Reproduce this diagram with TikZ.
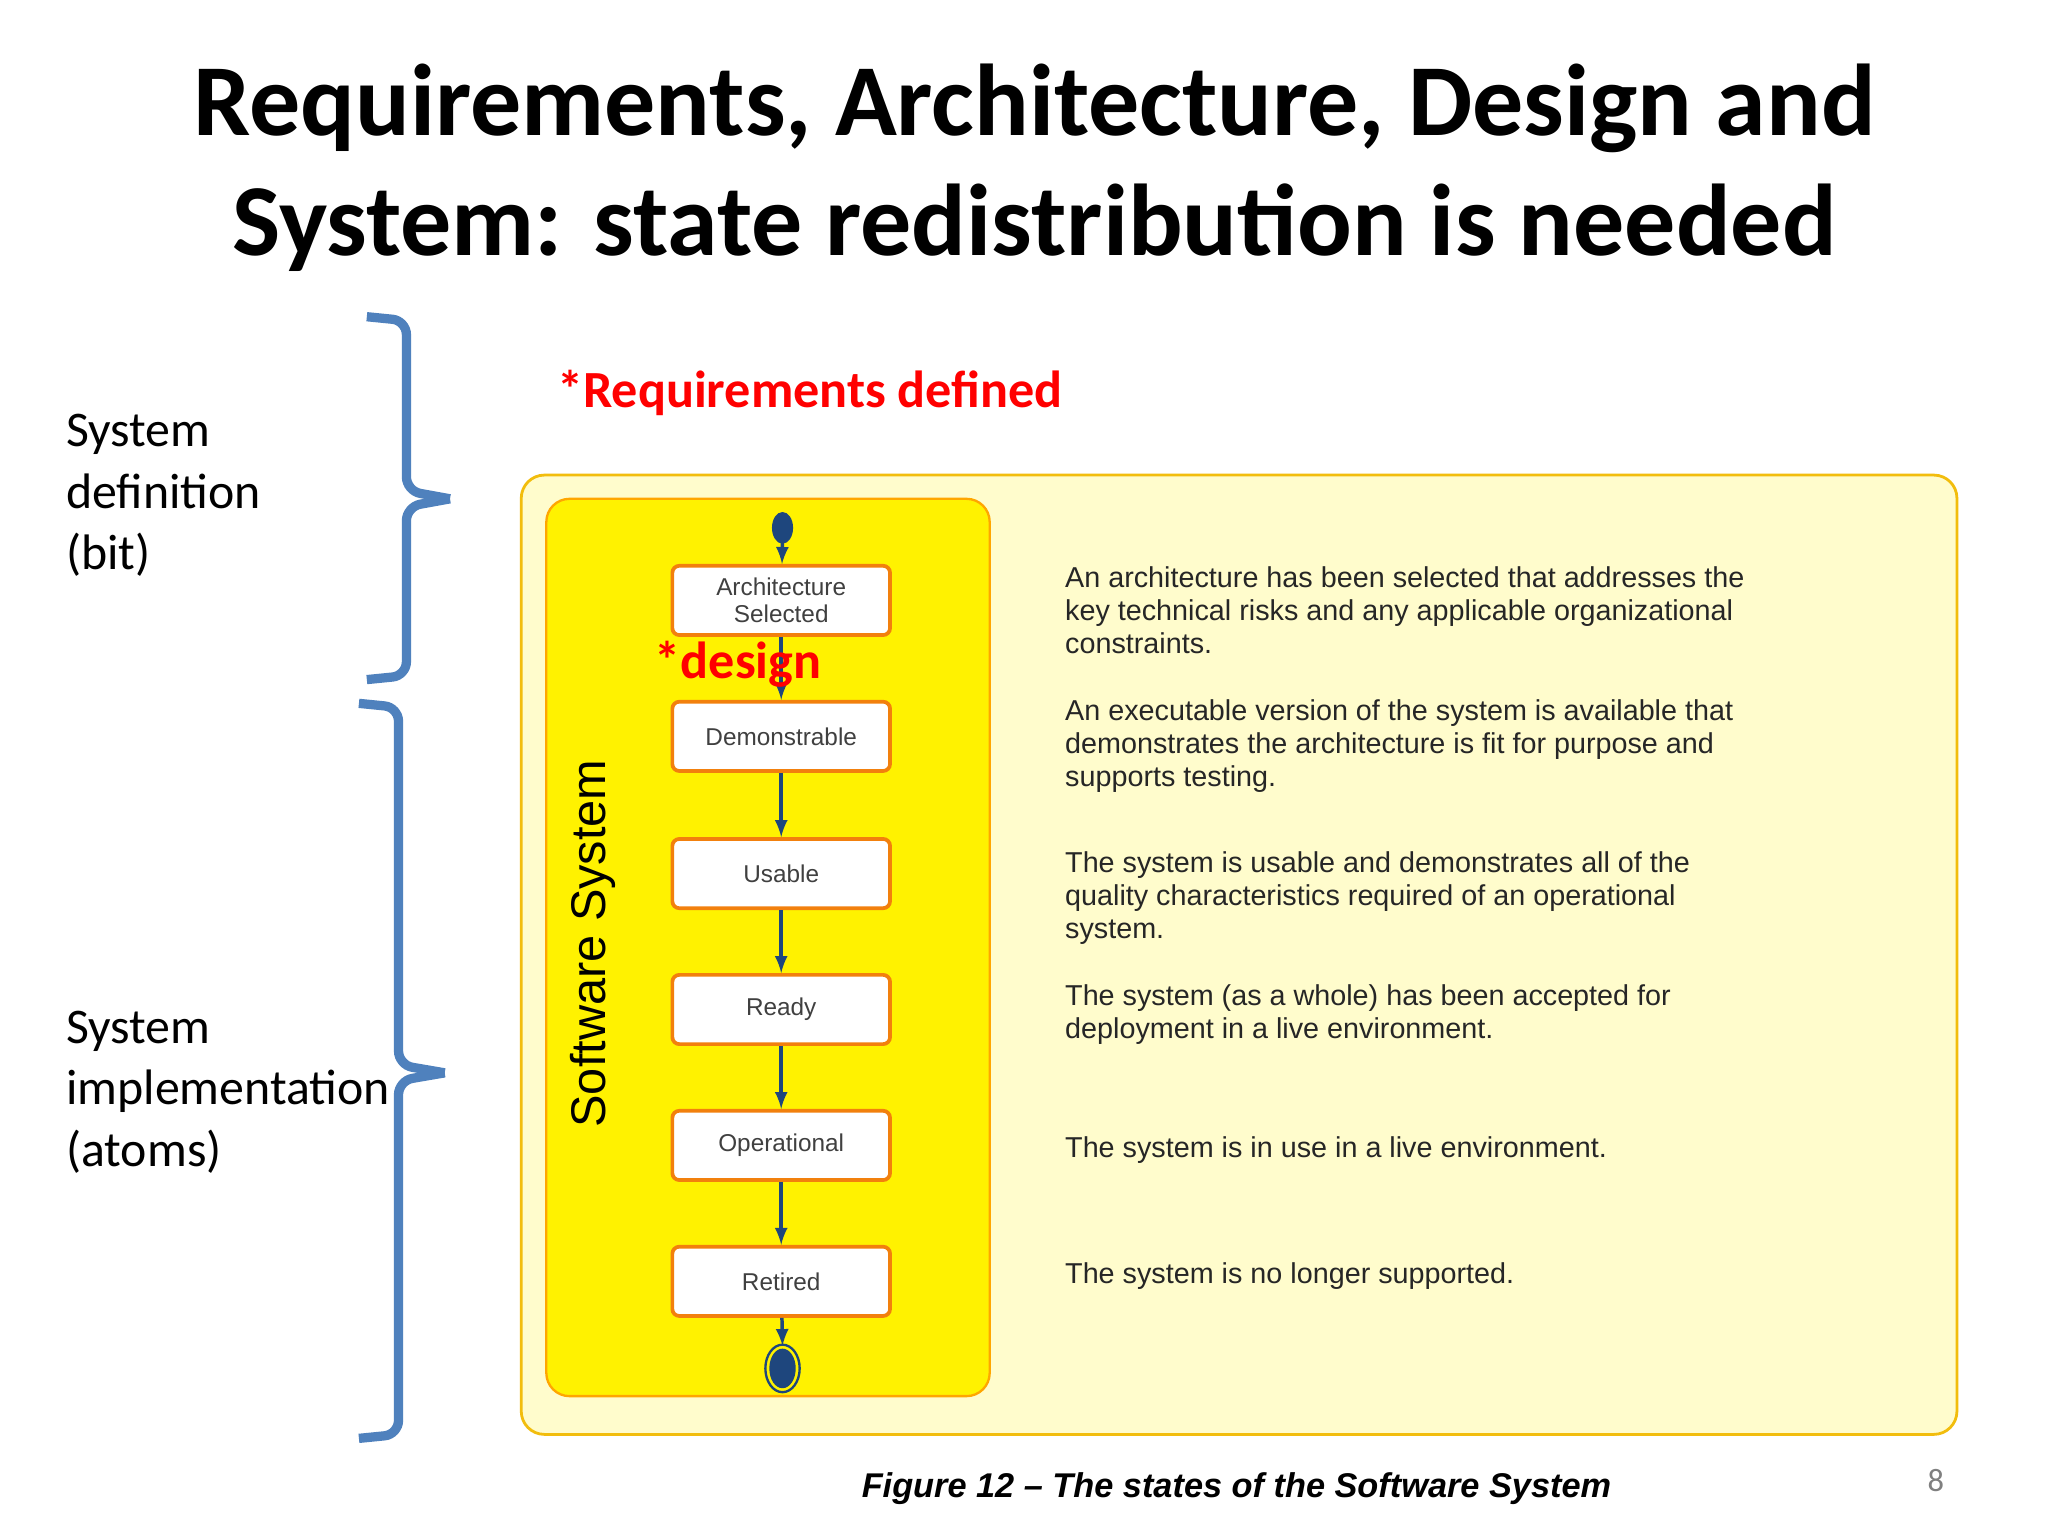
\documentclass[tikz,border=0pt]{standalone}
\usepackage{fontspec}
\setmainfont{Carlito}
\newfontfamily\arial{Liberation Sans}
\definecolor{bracec}{RGB}{79,129,189}
\definecolor{arc}{RGB}{30,70,125}
\begin{document}
\begin{tikzpicture}[x=0.02cm,y=-0.02cm,
  st/.style={draw=orange!80!brown,line width=1.6pt,fill=white,rounded corners=3pt,minimum width=3.3cm,minimum height=1.05cm,align=center,font=\arial\fontsize{10.5}{11.5}\selectfont,text=black!75},
  ar/.style={-latex,draw=arc,line width=1.5pt},
  desc/.style={anchor=north west,align=left,font=\arial\fontsize{12.4}{14.2}\selectfont,text=black!85},
  brace/.style={draw=bracec,line width=4pt,rounded corners=6pt},
  side/.style={anchor=north west,align=left,font=\fontsize{21.5}{26.5}\selectfont}]
\useasboundingbox (0,0) rectangle (1552,1164);
\fill[white] (0,0) rectangle (1552,1164);
\node[font=\bfseries\fontsize{44}{52}\selectfont,align=center] (title) at (784,127) {Requirements, Architecture, Design and\\System: state redistribution is needed};
\node[side] (sd) at (44,308) {System\\definition\\(bit)};
\node[side] (si) at (44,760) {System\\implementation\\(atoms)};
\draw[brace] (278,240) -- (308,243) -- (308,372) -- (341,378);
\draw[brace] (341,378) -- (308,384) -- (308,512) -- (278,515);
\draw[brace] (272,533) -- (302,536) -- (302,807) -- (337,813);
\draw[brace] (337,813) -- (302,819) -- (302,1087) -- (272,1090);
\node[text=red,font=\bfseries\fontsize{22.5}{28}\selectfont,anchor=west] (req) at (416,298) {*Requirements defined};
\draw[draw=orange!40!yellow!80!brown,fill=yellow!20,line width=1.2pt,rounded corners=10pt] (395,360) rectangle (1483,1087);
\draw[draw=orange!70!yellow,fill=yellow,line width=1pt,rounded corners=10pt] (414,378) rectangle (750,1058);
\node[rotate=90,font=\arial\fontsize{21}{24}\selectfont] (ss) at (449,715) {Software System};
\fill[arc] (593,400) ellipse (8 and 12);
\coordinate (top) at (593,410);
\node[st] (a) at (592,455) {Architecture\\Selected};
\node[st] (b) at (592,558) {Demonstrable};
\node[st] (c) at (592,662) {Usable};
\node[st] (d) at (592,765) {Ready};
\node[st] (e) at (592,868) {Operational};
\node[st] (f) at (592,971) {Retired};
\fill[arc] (593,1037) ellipse (10 and 15);
\draw[arc,line width=1pt] (593,1037) ellipse (13 and 18);
\coordinate (bot) at (593,1020);
\draw[ar] (top) -- (a);
\draw[ar] (a) -- (b);
\draw[ar] (b) -- (c);
\draw[ar] (c) -- (d);
\draw[ar] (d) -- (e);
\draw[ar] (e) -- (f);
\draw[ar] (f) -- (bot);
\node[text=red,font=\bfseries\fontsize{22.5}{28}\selectfont,anchor=west] (des) at (490,503) {*design};
\node[desc] at (801,423) {An architecture has been selected that addresses the\\key technical risks and any applicable organizational\\constraints.};
\node[desc] at (801,524) {An executable version of the system is available that\\demonstrates the architecture is fit for purpose and\\supports testing.};
\node[desc] at (801,639) {The system is usable and demonstrates all of the\\quality characteristics required of an operational\\system.};
\node[desc] at (801,740) {The system (as a whole) has been accepted for\\deployment in a live environment.};
\node[desc] at (801,855) {The system is in use in a live environment.};
\node[desc] at (801,951) {The system is no longer supported.};
\node[font=\arial\bfseries\itshape\fontsize{14.8}{16}\selectfont] (cap) at (937,1128) {Figure 12 \textendash{} The states of the Software System};
\node[text=gray,font=\fontsize{14}{16}\selectfont] (pg) at (1467,1122) {8};
\end{tikzpicture}
\end{document}
